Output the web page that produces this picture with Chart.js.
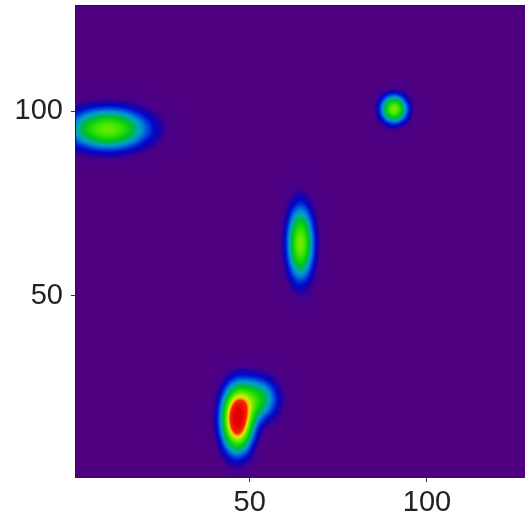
<!doctype html>
<html lang="en">
<head>
    <meta charset="utf-8">
    <title>Contour</title>
    <script src="https://cdn.jsdelivr.net/npm/chart.js"></script>
    <style>
        html, body { margin: 0; padding: 0; background: #fff; overflow: hidden; }
        #wrap { width: 525px; height: 519px; overflow: hidden; }
    </style>
</head>
<body>
<div id="wrap">
    <canvas id="myChart" width="528" height="519" style="width:528px;height:519px"></canvas>
</div>

<script>
    // axis ranges and tick labels
    const xRange = [1, 128.5];
    const yRange = [1, 128.5];
    const tickValues = [50, 100];

    // gaussian blobs (data units)
    const blobX   = [10.0, 90.7, 64.3, 46.5, 52.3];
    const blobY   = [95.2, 100.6, 64.3, 16.6, 22.1];
    const blobSX  = [7.5, 2.55, 2.5, 2.9, 3.8];
    const blobSY  = [3.7, 2.55, 6.6, 5.6, 3.9];
    const blobAmp = [0.58, 0.6, 0.6, 1.0, 0.4];

    // colour scale (value -> colour)
    const colorStops = [0.0, 0.05, 0.08, 0.13, 0.18, 0.24, 0.29, 0.34, 0.40, 0.50, 0.60, 0.68, 0.74, 0.80, 1.0];
    const stopColors = [
        [78, 0, 128], [70, 0, 140], [30, 0, 165], [0, 10, 200], [0, 60, 220], [0, 130, 215],
        [0, 165, 190], [0, 175, 110], [0, 195, 30], [40, 225, 0], [120, 235, 0], [215, 235, 0],
        [255, 170, 0], [245, 40, 0], [225, 0, 0]
    ];

    function fieldAt(x, y) {
        let v = 0;
        for (let i = 0; i < blobX.length; i++) {
            const dx = (x - blobX[i]) / blobSX[i];
            const dy = (y - blobY[i]) / blobSY[i];
            v += blobAmp[i] * Math.exp(-0.5 * (dx * dx + dy * dy));
        }
        return v;
    }

    function colorFor(v) {
        if (v <= colorStops[0]) return stopColors[0];
        for (let i = 1; i < colorStops.length; i++) {
            if (v <= colorStops[i]) {
                const t = (v - colorStops[i - 1]) / (colorStops[i] - colorStops[i - 1]);
                const a = stopColors[i - 1], b = stopColors[i];
                return [a[0] + (b[0] - a[0]) * t, a[1] + (b[1] - a[1]) * t, a[2] + (b[2] - a[2]) * t];
            }
        }
        return stopColors[stopColors.length - 1];
    }

    const contourPlugin = {
        id: 'contour',
        beforeDatasetsDraw(chart) {
            const area = chart.chartArea;
            const xs = chart.scales.x, ys = chart.scales.y;
            const w = Math.round(area.right - area.left), h = Math.round(area.bottom - area.top);
            const off = document.createElement('canvas');
            off.width = w; off.height = h;
            const octx = off.getContext('2d');
            const img = octx.createImageData(w, h);
            const xv = [];
            for (let i = 0; i < w; i++) xv.push(xs.getValueForPixel(area.left + i + 0.5));
            for (let j = 0; j < h; j++) {
                const yv = ys.getValueForPixel(area.top + j + 0.5);
                for (let i = 0; i < w; i++) {
                    const c = colorFor(fieldAt(xv[i], yv));
                    const k = (j * w + i) * 4;
                    img.data[k] = c[0]; img.data[k + 1] = c[1]; img.data[k + 2] = c[2]; img.data[k + 3] = 255;
                }
            }
            octx.putImageData(img, 0, 0);
            chart.ctx.drawImage(off, area.left, area.top);
        },
        afterDraw(chart) {
            const a = chart.chartArea, ctx = chart.ctx;
            ctx.save();
            ctx.strokeStyle = '#222';
            ctx.lineWidth = 1;
            ctx.strokeRect(a.left - 0.5, a.top - 0.5, a.right - a.left + 1, a.bottom - a.top + 1);
            ctx.restore();
        }
    };

    const tickFont = {family: '"Liberation Sans", Arial, sans-serif', size: 29};

    new Chart(document.getElementById('myChart'), {
        type: 'scatter',
        data: {
            datasets: [{
                label: 'blobs',
                data: blobX.map((x, i) => ({x: x, y: blobY[i]})),
                pointRadius: 0
            }]
        },
        options: {
            responsive: false,
            animation: false,
            events: [],
            layout: {padding: {top: 6, right: 0, left: 0, bottom: 0}},
            plugins: {legend: {display: false}, tooltip: {enabled: false}},
            scales: {
                x: {
                    type: 'linear',
                    min: xRange[0], max: xRange[1],
                    afterBuildTicks: s => { s.ticks = tickValues.map(v => ({value: v})); },
                    afterFit: s => { s.height = 42; s.paddingLeft = 0; s.paddingRight = 0; },
                    grid: {drawOnChartArea: false, drawTicks: true, tickLength: 5, color: '#333'},
                    border: {display: false},
                    ticks: {font: tickFont, color: '#222', padding: 4, maxRotation: 0}
                },
                y: {
                    type: 'linear',
                    min: yRange[0], max: yRange[1],
                    afterBuildTicks: s => { s.ticks = tickValues.map(v => ({value: v})); },
                    afterFit: s => { s.width = 76; s.paddingTop = 0; s.paddingBottom = 0; },
                    grid: {drawOnChartArea: false, drawTicks: true, tickLength: 5, color: '#333'},
                    border: {display: false},
                    ticks: {font: tickFont, color: '#222', padding: 8}
                }
            }
        },
        plugins: [contourPlugin]
    });
</script>
</body>
</html>
